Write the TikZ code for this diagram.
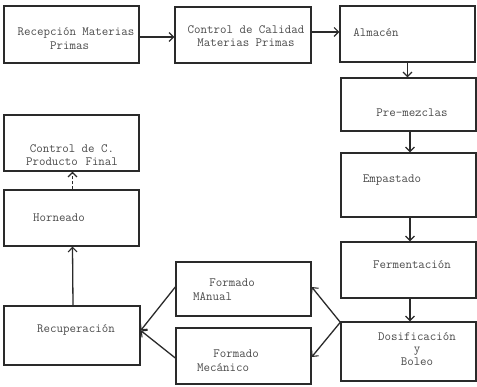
\documentclass[tikz,border=0pt]{standalone}
\usetikzlibrary{arrows.meta,calc}
\definecolor{ink}{HTML}{2A2A2A}
\definecolor{typ}{HTML}{4A4A4A}
\tikzset{
  box/.style={draw=ink, line width=1.4pt, rectangle, inner sep=0pt, minimum width=135pt, minimum height=#1},
  box/.default=56pt,
  txt/.style={text=typ, font=\ttfamily\fontsize{12.6}{13.5}\selectfont, align=center, inner sep=0pt},
  flow/.style={draw=ink, line width=1.3pt, -{Straight Barb[length=4.5pt,width=9pt,line width=1.1pt]}},
}
\begin{document}
\begin{tikzpicture}[x=1pt,y=-1pt]
\useasboundingbox (0,0) rectangle (477,387);
% boxes
\node[box=57pt] (b1) at (71.5,34.5) {};
\node[box, minimum width=136pt] (b2) at (243,35) {};
\node[box] (b3) at (407.5,34) {};
\node[box=53pt] (b4) at (408.5,104.5) {};
\node[box=64pt] (b5) at (408.5,185) {};
\node[box] (b6) at (408.5,270) {};
\node[box=59pt] (b7) at (408.5,351.5) {};
\node[box=54pt] (b8) at (243.5,289) {};
\node[box] (b9) at (243.5,356) {};
\node[box=59pt, minimum width=136pt] (b10) at (72,335.5) {};
\node[box] (b11) at (71.5,218) {};
\node[box] (b12) at (71.5,143) {};
% texts
\node[txt] (t1) at (76,38.5) {Recepción Materias\\Primas\hspace*{1em}};
\node[txt] (t2) at (246,36) {Control de Calidad\\Materias Primas};
\node[txt] (t3) at (376,33) {Almacén};
\node[txt] (t4) at (412,113) {Pre-mezclas};
\node[txt] (t5) at (392,180) {Empastado};
\node[txt] (t6) at (412,265) {Fermentación};
\node[txt, font=\ttfamily\fontsize{12.6}{12.5}\selectfont] (t7) at (417,349) {Dosificación\\y\\Boleo};
\node[txt, align=left] (t8) at (224,289.5) {\hspace*{1.3em}Formado\\MAnual};
\node[txt, align=left] (t9) at (228,360.5) {\hspace*{1.3em}Formado\\Mecánico};
\node[txt] (t10) at (76,330) {Recuperación};
\node[txt] (t11) at (59,218) {Horneado};
\node[txt, font=\ttfamily\fontsize{12.6}{12.5}\selectfont] (t12) at (72,155) {Control de C.\\Producto\hspace*{0.6em}Final};
% connectors
\draw[flow] ([yshift=-2.5pt]b1.east) -- ([yshift=-2.5pt]b1.east -| b2.west);
\draw[flow] ([yshift=3pt]b2.east) -- ([yshift=3pt]b2.east -| b3.west);
\draw[flow] (b3.south) -- (b3.south |- b4.north);
\draw[flow] ([xshift=1.5pt]b4.south) -- ([xshift=1.5pt]b5.north);
\draw[flow] ([xshift=1.5pt]b5.south) -- ([xshift=1.5pt]b6.north);
\draw[flow] ([xshift=1.5pt]b6.south) -- ([xshift=1.5pt]b7.north);
\coordinate (split) at ([yshift=-1pt]b7.north west);
\draw[flow] (split) -- ([yshift=2pt]b8.east);
\draw[flow] (split) -- ([yshift=-1pt]b9.east);
\coordinate (join) at ([yshift=5pt]b10.east);
\draw[flow] ([yshift=2pt]b8.west) -- (join);
\draw[flow] ([yshift=-2pt]b9.west) -- (join);
\draw[flow] ([xshift=1pt]b10.north) -- ([xshift=1pt]b11.south);
\draw[flow, dashed, dash pattern=on 3pt off 2pt] ([xshift=1pt]b11.north) -- ([xshift=1pt]b12.south);
\end{tikzpicture}
\end{document}
